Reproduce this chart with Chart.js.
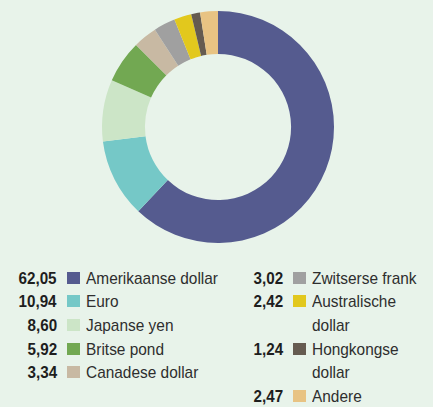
<!DOCTYPE html>
<html>
<head>
<meta charset="utf-8">
<script src="https://cdn.jsdelivr.net/npm/chart.js@4.4.0/dist/chart.umd.min.js"></script>
<style>
  html, body { margin: 0; padding: 0; background: #e8f3ea; }
  #wrap { position: relative; width: 433px; height: 407px; overflow: hidden; }
  #chart { position: absolute; left: 0; top: 0; }
  .item { position: absolute; font-family: "Liberation Sans", Arial, sans-serif; font-size: 17px; color: #2e2e2e; }
  .num { position: absolute; font-weight: bold; color: #1e1e1e; white-space: nowrap; transform-origin: right top; }
  .box { position: absolute; width: 13.5px; height: 12px; }
  .lbl { position: absolute; white-space: nowrap; transform-origin: left top; }
</style>
</head>
<body>
<div id="wrap">
  <canvas id="chart" width="433" height="254"></canvas>
</div>
<script>
const labels = ["Amerikaanse dollar", "Euro", "Japanse yen", "Britse pond", "Canadese dollar", "Zwitserse frank", "Australische dollar", "Hongkongse dollar", "Andere"];
const values = [62.05, 10.94, 8.60, 5.92, 3.34, 3.02, 2.42, 1.24, 2.47];
const valueText = ["62,05", "10,94", "8,60", "5,92", "3,34", "3,02", "2,42", "1,24", "2,47"];
const colors = ["#555b8f", "#75c8c7", "#cce5c7", "#72a852", "#c8b9a3", "#a0a0a0", "#e2c81d", "#655b50", "#e8c383"];
// legend label lines (wrapped as in the original)
const legendLines = [["Amerikaanse dollar"], ["Euro"], ["Japanse yen"], ["Britse pond"], ["Canadese dollar"], ["Zwitserse frank"], ["Australische", "dollar"], ["Hongkongse", "dollar"], ["Andere"]];

var ctx = document.getElementById("chart").getContext("2d");
var myChart = new Chart(ctx, {
  type: "doughnut",
  data: {
    labels: labels,
    datasets: [{
      data: values,
      backgroundColor: colors,
      borderWidth: 0
    }]
  },
  options: {
    responsive: false,
    animation: false,
    cutout: "63%",
    layout: { padding: { top: 11, bottom: 11, left: 3, right: 0 } },
    plugins: { legend: { display: false }, tooltip: { enabled: false } }
  }
});

// condense the font so it looks like the narrow face of the original
var mctx = document.createElement("canvas").getContext("2d");
mctx.font = '17px "Liberation Sans"';
var lblScale = 132 / mctx.measureText("Amerikaanse dollar").width;
mctx.font = 'bold 17px "Liberation Sans"';
var numScale = 38 / mctx.measureText("62,05").width;

// legend in two columns
var wrap = document.getElementById("wrap");
var cols = [
  { numRight: 57, boxX: 66.5, lblX: 86, y: 266.5 },
  { numRight: 283, boxX: 292.5, lblX: 312, y: 266.5 }
];
var rowH = 23.7;
var line = [0, 0];
labels.forEach(function (name, i) {
  var c = i < 5 ? 0 : 1;
  var col = cols[c];
  var top = col.y + line[c] * rowH;
  var item = document.createElement("div");
  item.className = "item";
  item.style.left = "0px";
  item.style.top = top + "px";
  item.style.lineHeight = rowH + "px";
  item.innerHTML =
    '<div class="num" style="right:' + (433 - col.numRight) + 'px;transform:scaleX(' + numScale + ')">' + valueText[i] + '</div>' +
    '<div class="box" style="left:' + col.boxX + 'px;top:5px;background:' + colors[i] + '"></div>' +
    '<div class="lbl" style="left:' + col.lblX + 'px;transform:scaleX(' + lblScale + ')">' + legendLines[i].join("<br>") + '</div>';
  item.style.width = "433px";
  wrap.appendChild(item);
  line[c] += legendLines[i].length;
});
</script>
</body>
</html>
